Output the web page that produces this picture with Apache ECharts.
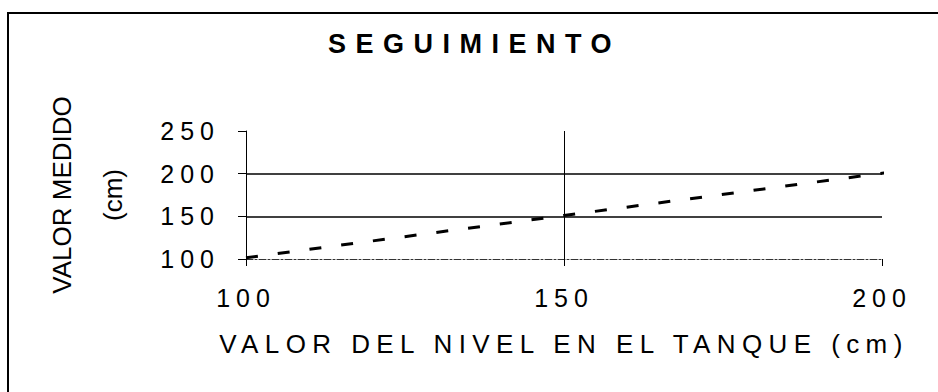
<!DOCTYPE html>
<html>
<head>
<meta charset="utf-8">
<script src="https://cdn.jsdelivr.net/npm/echarts@6/dist/echarts.min.js"></script>
<style>
  html, body { margin: 0; padding: 0; background: #fff; }
  #main { width: 938px; height: 392px; }
  /* espaciado de letras, como en el original */
  #main text[style*="27px"] { letter-spacing: 9.5px; }
  #main text[style*="26px"][style*="Arial"] { letter-spacing: 6.4px; }
  #main text[style*="25px"] { letter-spacing: 6px; }
</style>
</head>
<body>
<div id="main"></div>
<script>
// ---- datos ----
const xTicks = [100, 150, 200];
const yTicks = [100, 150, 200, 250];
const nivelTanque = [100, 150, 201];     // valor del nivel en el tanque (cm)
const valorMedido = [101.5, 151, 201.5]; // valor medido (cm)

const seguimiento = nivelTanque.map((x, i) => [x, valorMedido[i]]);

const chart = echarts.init(document.getElementById('main'), null, { renderer: 'svg' });

chart.setOption({
  animation: false,
  backgroundColor: '#fff',
  title: {
    text: 'SEGUIMIENTO',
    left: 328,
    top: 30,
    padding: 0,
    textStyle: { fontFamily: 'Liberation Sans', fontSize: 27, fontWeight: 'bold', color: '#000' }
  },
  grid: { left: 246, right: 56, top: 131, bottom: 133 },
  xAxis: {
    type: 'value',
    min: xTicks[0],
    max: xTicks[xTicks.length - 1],
    interval: 50,
    name: 'VALOR DEL NIVEL EN EL TANQUE (cm)',
    nameLocation: 'middle',
    nameGap: 72,
    nameTextStyle: { fontFamily: 'Arial', fontSize: 26, color: '#000' },
    axisLine: { lineStyle: { color: '#333', width: 1, type: [7, 2, 2, 2] } },
    axisTick: { length: 7, lineStyle: { color: '#000', width: 1 } },
    axisLabel: { margin: 26, fontFamily: 'Arial', fontSize: 25, color: '#000' },
    splitLine: {
      show: true, showMinLine: false, showMaxLine: false,
      lineStyle: { color: '#000', width: 1 }
    }
  },
  yAxis: {
    type: 'value',
    min: yTicks[0],
    max: yTicks[yTicks.length - 1],
    interval: 50,
    name: 'VALOR MEDIDO\n(cm)',
    nameLocation: 'middle',
    nameRotate: 90,
    nameGap: 108,
    nameTextStyle: { fontFamily: 'Liberation Sans', fontSize: 26, lineHeight: 51, color: '#000' },
    axisLine: { show: true, lineStyle: { color: '#000', width: 1 } },
    axisTick: { show: true, length: 8, lineStyle: { color: '#000', width: 1 } },
    axisLabel: { margin: 26, fontFamily: 'Arial', fontSize: 25, color: '#000' },
    splitLine: {
      show: true, showMinLine: false, showMaxLine: false,
      lineStyle: { color: '#000', width: 1.5 }
    }
  },
  series: [{
    type: 'line',
    data: seguimiento,
    showSymbol: false,
    clip: false,
    lineStyle: { color: '#000', width: 3, type: [12, 20] }
  }],
  graphic: [{
    type: 'polyline',
    silent: true,
    shape: { points: [[8, 392], [8, 13], [938, 13]] },
    style: { stroke: '#000', lineWidth: 2, fill: null }
  }]
});
</script>
</body>
</html>
